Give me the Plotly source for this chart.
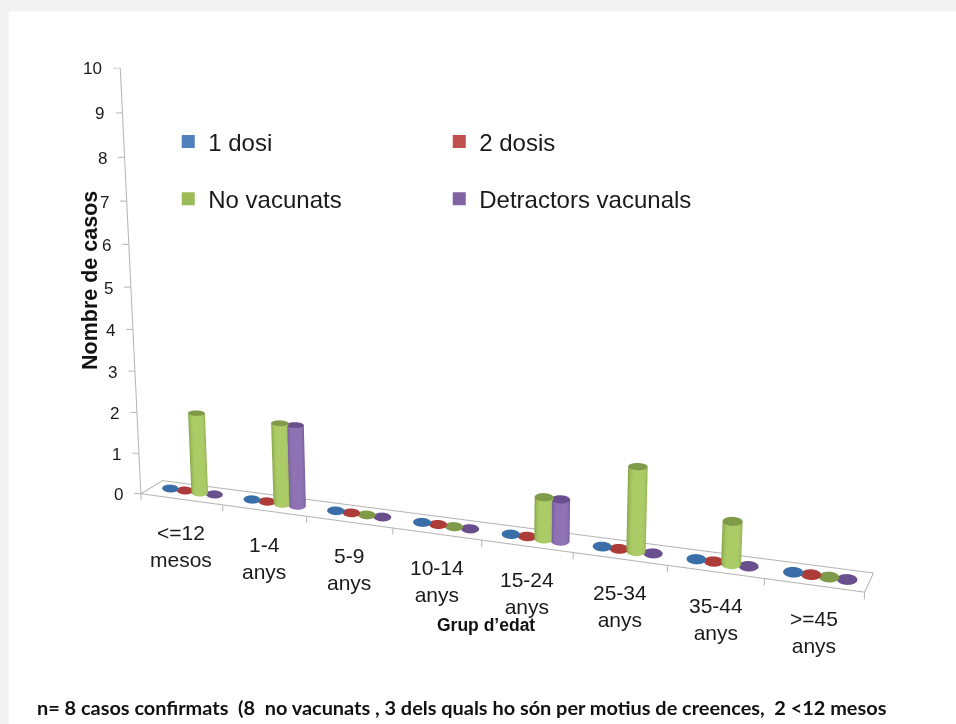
import numpy as np
import plotly.graph_objects as go

categories = ["<=12<br>mesos", "1-4<br>anys", "5-9<br>anys", "10-14<br>anys",
              "15-24<br>anys", "25-34<br>anys", "35-44<br>anys", ">=45<br>anys"]
series_names = ["1 dosi", "2 dosis", "No vacunats", "Detractors vacunals"]
dosi_1 = [0, 0, 0, 0, 0, 0, 0, 0]
dosis_2 = [0, 0, 0, 0, 0, 0, 0, 0]
no_vacunats = [2, 2, 0, 0, 1, 2, 1, 0]
detractors = [0, 2, 0, 0, 1, 0, 0, 0]
z_ticks = list(range(0, 11))

series_values = [dosi_1, dosis_2, no_vacunats, detractors]
base_colors = ["#4f81bd", "#c0504d", "#9bbb59", "#8064a2"]
dark_colors = ["#3a6496", "#8f3b39", "#7d9a44", "#5c4680"]
light_colors = ["#6f9bd1", "#d77572", "#aacb66", "#8f72b3"]
cap_colors = ["#3a6ea8", "#ad3b38", "#7f9a48", "#6a4f8e"]

RX, RY = 0.105, 0.28
GROUP_STEP = 0.185
Y_MID = 0.55
FLOOR_TILT = -0.1845  # the picture's floor runs downhill to the right
view_phi = np.arctan2(-0.98, 0.15)

fig = go.Figure()
theta = np.linspace(0, 2 * np.pi, 49)
radial = np.array([0.0, 1.0])


def flat(col):
    return [[0, col], [1, col]]


nolight = dict(ambient=1, diffuse=0, specular=0, roughness=1, fresnel=0)

for s, vals in enumerate(series_values):
    scale = [[0, dark_colors[s]], [0.5, base_colors[s]], [0.85, light_colors[s]], [1, light_colors[s]]]
    for c, v in enumerate(vals):
        cx = c + 0.47 + 0.023 * c + (s - 1.5) * GROUP_STEP
        z0 = FLOOR_TILT * cx
        skew = -0.316 + 0.0606 * cx  # keeps the discs level on screen
        if v > 0:
            tt, zz = np.meshgrid(theta, np.array([0.0, float(v)]))
            fig.add_trace(go.Surface(
                x=cx + RX * np.cos(tt) + skew * RY * np.sin(tt), y=Y_MID + RY * np.sin(tt), z=z0 + zz,
                surfacecolor=np.clip(np.cos(tt - view_phi), 0, 1),
                colorscale=scale, cmin=0, cmax=1, showscale=False,
                lighting=nolight, hoverinfo="skip", showlegend=False))
        tt, rr = np.meshgrid(theta, radial)
        fig.add_trace(go.Surface(
            x=cx + RX * rr * np.cos(tt) + skew * RY * rr * np.sin(tt), y=Y_MID + RY * rr * np.sin(tt),
            z=np.full(tt.shape, z0 + float(v)),
            surfacecolor=np.zeros(tt.shape), colorscale=flat(cap_colors[s]),
            cmin=0, cmax=1, showscale=False,
            lighting=nolight, hoverinfo="skip", showlegend=False))


def line(xs, ys, zs, col="#b4b4b4", w=2):
    fig.add_trace(go.Scatter3d(x=xs, y=ys, z=zs, mode="lines",
                               line=dict(color=col, width=w),
                               hoverinfo="skip", showlegend=False))


n = len(categories)
floor_end = FLOOR_TILT * n
line([0, n, n + 0.25, -0.05, 0], [0, 0, 1, 1, 0], [0, floor_end, floor_end, 0, 0])
line([0, 0], [0, 0], [z_ticks[0], z_ticks[-1]])
for t in z_ticks:
    line([-0.08, 0], [0, 0], [t, t])
for i in range(n + 1):
    line([i, i], [0, 0], [FLOOR_TILT * i, FLOOR_TILT * i - 0.16])

legend_map = ["legend", "legend", "legend2", "legend2"]
for s in range(4):
    fig.add_trace(go.Scatter3d(
        x=[None], y=[None], z=[None], mode="markers", name=series_names[s],
        legend=legend_map[s],
        marker=dict(symbol="square", size=13, color=base_colors[s])))

scene_annotations = []
for t in z_ticks:
    scene_annotations.append(dict(x=0, y=0, z=t, text=str(t), showarrow=False,
                                  xanchor="right", yanchor="middle", xshift=-16, yshift=-1,
                                  font=dict(family="Liberation Sans", size=17, color="#1a1a1a")))
for i, lab in enumerate(categories):
    scene_annotations.append(dict(x=i + 0.5, y=0, z=FLOOR_TILT * (i + 0.5), text=lab, showarrow=False,
                                  xanchor="center", yanchor="top", yshift=-20,
                                  font=dict(family="Liberation Sans", size=21, color="#1a1a1a")))

leg_font = dict(family="Liberation Sans", size=24, color="#1a1a1a")
fig.update_layout(
    width=956, height=724,
    margin=dict(l=0, r=0, t=0, b=0),
    paper_bgcolor="#f2f2f2",
    showlegend=True,
    legend=dict(orientation="h", x=0.176, y=0.804, xanchor="left", yanchor="middle",
                entrywidth=226, entrywidthmode="pixels", font=leg_font, bgcolor="rgba(0,0,0,0)"),
    legend2=dict(orientation="h", x=0.176, y=0.725, xanchor="left", yanchor="middle",
                 entrywidth=226, entrywidthmode="pixels", font=leg_font, bgcolor="rgba(0,0,0,0)"),
    shapes=[dict(type="rect", xref="paper", yref="paper", x0=0.009, x1=1, y0=0, y1=0.984,
                 fillcolor="white", line=dict(width=0), layer="below")],
    scene=dict(
        domain=dict(x=[0, 1], y=[0, 1]),
        bgcolor="rgba(0,0,0,0)",
        aspectmode="manual",
        aspectratio=dict(x=1.05, y=0.074, z=0.7172),
        xaxis=dict(range=[-0.1, 8.3], visible=False),
        yaxis=dict(range=[0, 1], visible=False),
        zaxis=dict(range=[-2, 10], visible=False),
        camera=dict(eye=dict(x=0.1579, y=-1.1839, z=0.1059),
                    center=dict(x=-0.0223, y=-0.0067, z=-0.041),
                    up=dict(x=0, y=0, z=1)),
        annotations=scene_annotations,
    ),
    annotations=[
        dict(text="<b>Nombre de casos</b>", xref="paper", yref="paper", x=90 / 956, y=1 - 281 / 724,
             xanchor="center", yanchor="middle",
             showarrow=False, textangle=-90, font=dict(family="Liberation Sans", size=21.5, color="#111111")),
        dict(text="<b>Grup d’edat</b>", xref="paper", yref="paper", x=486 / 956, y=1 - 625 / 724,
             xanchor="center", yanchor="middle",
             showarrow=False, font=dict(family="Liberation Sans", size=17.5, color="#111111")),
        dict(text="<b>n= 8 casos confirmats  (8  no vacunats , 3 dels quals ho són per motius de creences,  2 &lt;12 mesos</b>",
             xref="paper", yref="paper", x=35 / 956, y=1 - 707 / 724, xanchor="left", yanchor="middle",
             showarrow=False, font=dict(family="Lato", size=19.9, color="#111111")),
    ],
)
fig.write_html("out.html", config=dict(displayModeBar=False),
               post_script="document.body.style.margin='0';")
